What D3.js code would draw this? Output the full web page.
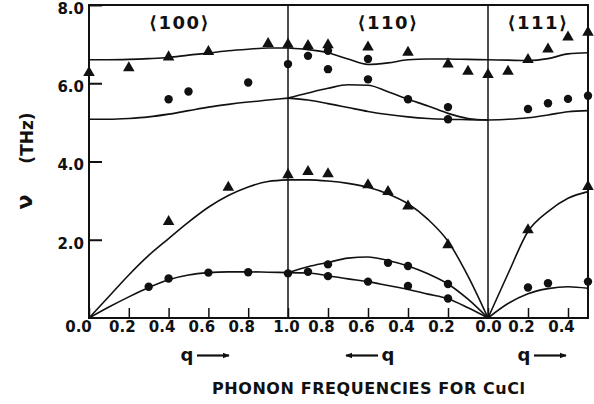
<!DOCTYPE html>
<html>
<head>
<meta charset="utf-8">
<script src="https://cdn.jsdelivr.net/npm/d3@7"></script>
<style>
  body { margin: 0; background: #fff; }
  svg text { font-family: "DejaVu Sans", sans-serif; font-weight: bold; fill: #111; }
</style>
</head>
<body>
<svg width="594" height="404"></svg>
<script>
// direction labels and q tick values per section
const dirLabels = ['\u27E8100\u27E9', '\u27E8110\u27E9', '\u27E8111\u27E9'];
const ticks100 = [0, 0.2, 0.4, 0.6, 0.8];
const ticks110 = [1.0, 0.8, 0.6, 0.4, 0.2];
const ticks111 = [0, 0.2, 0.4];
const freqTicks = [2, 4, 6, 8];

// calculated dispersion curves, [q, THz]
const lo100 = [[0, 6.60], [0.1, 6.60], [0.2, 6.61], [0.3, 6.63], [0.4, 6.66], [0.5, 6.72], [0.6, 6.77], [0.7, 6.83], [0.8, 6.87], [0.9, 6.90], [1.0, 6.90]];
const to100 = [[0, 5.08], [0.1, 5.08], [0.2, 5.10], [0.3, 5.14], [0.4, 5.21], [0.5, 5.30], [0.6, 5.39], [0.7, 5.46], [0.8, 5.52], [0.9, 5.57], [1.0, 5.62]];
const la100 = [[0, 0], [0.1, 0.55], [0.2, 1.10], [0.3, 1.60], [0.4, 2.03], [0.5, 2.45], [0.6, 2.83], [0.7, 3.13], [0.8, 3.35], [0.9, 3.49], [1.0, 3.53]];
const ta100 = [[0, 0], [0.1, 0.28], [0.2, 0.54], [0.3, 0.78], [0.4, 0.98], [0.5, 1.10], [0.6, 1.16], [0.7, 1.18], [0.8, 1.18], [0.9, 1.17], [1.0, 1.16]];

const lo110 = [[1.0, 6.90], [0.9, 6.86], [0.8, 6.78], [0.7, 6.62], [0.6, 6.48], [0.5, 6.52], [0.4, 6.60], [0.3, 6.62], [0.2, 6.62], [0.1, 6.61], [0, 6.60]];
const toA110 = [[1.0, 5.62], [0.9, 5.75], [0.8, 5.87], [0.7, 5.96], [0.6, 5.95], [0.5, 5.78], [0.4, 5.59], [0.3, 5.42], [0.2, 5.23], [0.1, 5.10], [0, 5.06]];
const toB110 = [[1.0, 5.62], [0.9, 5.57], [0.8, 5.48], [0.7, 5.38], [0.6, 5.28], [0.5, 5.20], [0.4, 5.14], [0.3, 5.10], [0.2, 5.08], [0.1, 5.07], [0, 5.06]];
const la110 = [[1.0, 3.53], [0.9, 3.53], [0.8, 3.50], [0.7, 3.44], [0.6, 3.34], [0.5, 3.17], [0.4, 2.92], [0.3, 2.52], [0.2, 1.96], [0.1, 1.07], [0, 0]];
const taA110 = [[1.0, 1.16], [0.9, 1.31], [0.8, 1.42], [0.7, 1.53], [0.6, 1.56], [0.5, 1.47], [0.4, 1.33], [0.3, 1.13], [0.2, 0.87], [0.1, 0.48], [0, 0]];
const taB110 = [[1.0, 1.16], [0.9, 1.15], [0.8, 1.08], [0.7, 1.00], [0.6, 0.93], [0.5, 0.83], [0.4, 0.73], [0.3, 0.61], [0.2, 0.49], [0.1, 0.26], [0, 0]];

const lo111 = [[0, 6.60], [0.1, 6.59], [0.2, 6.58], [0.3, 6.63], [0.4, 6.75], [0.5, 6.78]];
const to111 = [[0, 5.06], [0.1, 5.08], [0.2, 5.12], [0.3, 5.19], [0.4, 5.27], [0.5, 5.30]];
const la111 = [[0, 0], [0.1, 1.13], [0.2, 2.21], [0.3, 2.72], [0.4, 3.06], [0.5, 3.23]];
const ta111 = [[0, 0], [0.1, 0.37], [0.2, 0.62], [0.3, 0.75], [0.4, 0.80], [0.5, 0.76]];

// measured points, [q, THz]
const tri100 = [[0, 6.27], [0.2, 6.39], [0.4, 6.67], [0.6, 6.81], [0.9, 7.01], [1.0, 6.99], [0.4, 2.46], [0.7, 3.34], [1.0, 3.66]];
const dot100 = [[0.4, 5.59], [0.5, 5.79], [0.8, 6.02], [1.0, 6.49], [0.3, 0.80], [0.4, 1.01], [0.6, 1.16], [0.8, 1.17], [1.0, 1.14]];
const tri110 = [[0.9, 6.96], [0.8, 6.98], [0.6, 6.92], [0.4, 6.79], [0.2, 6.49], [0.1, 6.30], [0, 6.22],
  [0.9, 3.74], [0.8, 3.68], [0.6, 3.40], [0.5, 3.23], [0.4, 2.86], [0.2, 1.87]];
const dot110 = [[0.9, 6.70], [0.8, 6.83], [0.8, 6.36], [0.6, 6.62], [0.6, 6.10], [0.4, 5.59], [0.2, 5.39], [0.2, 5.08],
  [0.9, 1.18], [0.8, 1.37], [0.8, 1.07], [0.6, 0.93], [0.5, 1.41], [0.4, 1.33], [0.4, 0.82], [0.2, 0.87], [0.2, 0.50]];
const tri111 = [[0.1, 6.30], [0.2, 6.60], [0.3, 6.87], [0.4, 7.18], [0.5, 7.30], [0.2, 2.25], [0.5, 3.36]];
const dot111 = [[0.2, 5.34], [0.3, 5.49], [0.4, 5.60], [0.5, 5.68], [0.2, 0.78], [0.3, 0.89], [0.5, 0.93]];

const svg = d3.select('svg');
const ink = '#111';

const x100 = d3.scaleLinear().domain([0, 1]).range([89, 288]);
const x110 = d3.scaleLinear().domain([1, 0]).range([288, 488]);
const x111 = d3.scaleLinear().domain([0, 0.5]).range([488, 588]);
const y = d3.scaleLinear().domain([0, 8]).range([318, 5]);

const sections = [
  { x: x100, curves: [lo100, to100, la100, ta100], tri: tri100, dot: dot100, ticks: ticks100 },
  { x: x110, curves: [lo110, toA110, toB110, la110, taA110, taB110], tri: tri110, dot: dot110, ticks: ticks110 },
  { x: x111, curves: [lo111, to111, la111, ta111], tri: tri111, dot: dot111, ticks: ticks111 },
];

// frame and direction separators
const [y0, y1] = y.range();
svg.append('rect')
  .attr('x', 89).attr('y', y1)
  .attr('width', 588 - 89).attr('height', y0 - y1)
  .attr('fill', 'none').attr('stroke', ink).attr('stroke-width', 2);
[x110(1), x111(0)].forEach((xv) => {
  svg.append('line')
    .attr('x1', xv).attr('x2', xv).attr('y1', y1).attr('y2', y0)
    .attr('stroke', ink).attr('stroke-width', 1.5);
});

// y axis, ticks pointing inwards
const yAxis = svg.append('g')
  .attr('transform', 'translate(89,0)')
  .call(d3.axisLeft(y).tickValues(freqTicks).tickSize(-13).tickPadding(5).tickFormat(d3.format('.1f')));
yAxis.select('.domain').remove();
yAxis.selectAll('line').attr('stroke', ink).attr('stroke-width', 2);
yAxis.selectAll('text').attr('font-size', 15).attr('dy', '0.55em').attr('fill', ink);

// q axes per section
sections.forEach((sec, i) => {
  const g = svg.append('g')
    .attr('transform', `translate(0,${y0})`)
    .call(d3.axisBottom(sec.x).tickValues(sec.ticks).tickSize(-10).tickPadding(3).tickFormat(d3.format('.1f')));
  g.select('.domain').remove();
  g.selectAll('line').attr('stroke', ink).attr('stroke-width', 1.5);
  g.selectAll('text')
    .attr('font-size', 15)
    .attr('fill', ink)
    .attr('dx', (d) => {
      if (i === 1 && d === 1) return -2;
      if (i === 2 && d === 0) return 0;
      if (i === 0 && d === 0) return -11;
      return -7;
    });

  // direction label
  const [a, b] = sec.x.range();
  svg.append('text')
    .attr('x', (a + b) / 2 - (i === 0 ? 9 : 0))
    .attr('y', 29)
    .attr('text-anchor', 'middle')
    .attr('font-size', 18)
    .attr('letter-spacing', 1.5)
    .text(dirLabels[i]);

  const line = d3.line()
    .x((d) => sec.x(d[0]))
    .y((d) => y(d[1]))
    .curve(d3.curveMonotoneX);

  svg.append('g').selectAll('path')
    .data(sec.curves).enter()
    .append('path')
    .attr('d', line)
    .attr('fill', 'none')
    .attr('stroke', ink)
    .attr('stroke-width', 1.6);

  svg.append('g').selectAll('circle')
    .data(sec.dot).enter()
    .append('circle')
    .attr('cx', (d) => sec.x(d[0]))
    .attr('cy', (d) => y(d[1]))
    .attr('r', 4.2)
    .attr('fill', ink);

  svg.append('g').selectAll('path')
    .data(sec.tri).enter()
    .append('path')
    .attr('d', d3.symbol(d3.symbolTriangle, 58))
    .attr('transform', (d) => `translate(${sec.x(d[0])},${y(d[1])})`)
    .attr('fill', ink);
});

// q direction arrows
svg.append('defs').append('marker')
  .attr('id', 'head')
  .attr('viewBox', '0 0 10 10')
  .attr('refX', 9).attr('refY', 5)
  .attr('markerWidth', 3.2).attr('markerHeight', 3.2)
  .attr('orient', 'auto')
  .append('path').attr('d', 'M0,1 L10,5 L0,9 Z').attr('fill', ink);

const qArrows = [
  { q: 187, from: 197, to: 229 },
  { q: 388, from: 378, to: 346 },
  { q: 524, from: 534, to: 566 },
];
qArrows.forEach((a) => {
  svg.append('text')
    .attr('x', a.q).attr('y', 361)
    .attr('text-anchor', 'middle')
    .attr('font-size', 18)
    .text('q');
  svg.append('line')
    .attr('x1', a.from).attr('x2', a.to)
    .attr('y1', 355.5).attr('y2', 355.5)
    .attr('stroke', ink).attr('stroke-width', 2.2)
    .attr('marker-end', 'url(#head)');
});

// axis title
svg.append('text')
  .attr('transform', 'translate(33,138) rotate(-90)')
  .attr('text-anchor', 'middle')
  .attr('font-size', 17)
  .text('(THz)');
svg.append('text')
  .attr('transform', 'translate(32,202) rotate(-90)')
  .attr('text-anchor', 'middle')
  .attr('font-size', 22)
  .text('\u03BD');

svg.append('text')
  .attr('x', 212).attr('y', 394)
  .attr('font-size', 16)
  .attr('textLength', 313)
  .attr('lengthAdjust', 'spacing')
  .text('PHONON FREQUENCIES FOR CuCl');
</script>
</body>
</html>
